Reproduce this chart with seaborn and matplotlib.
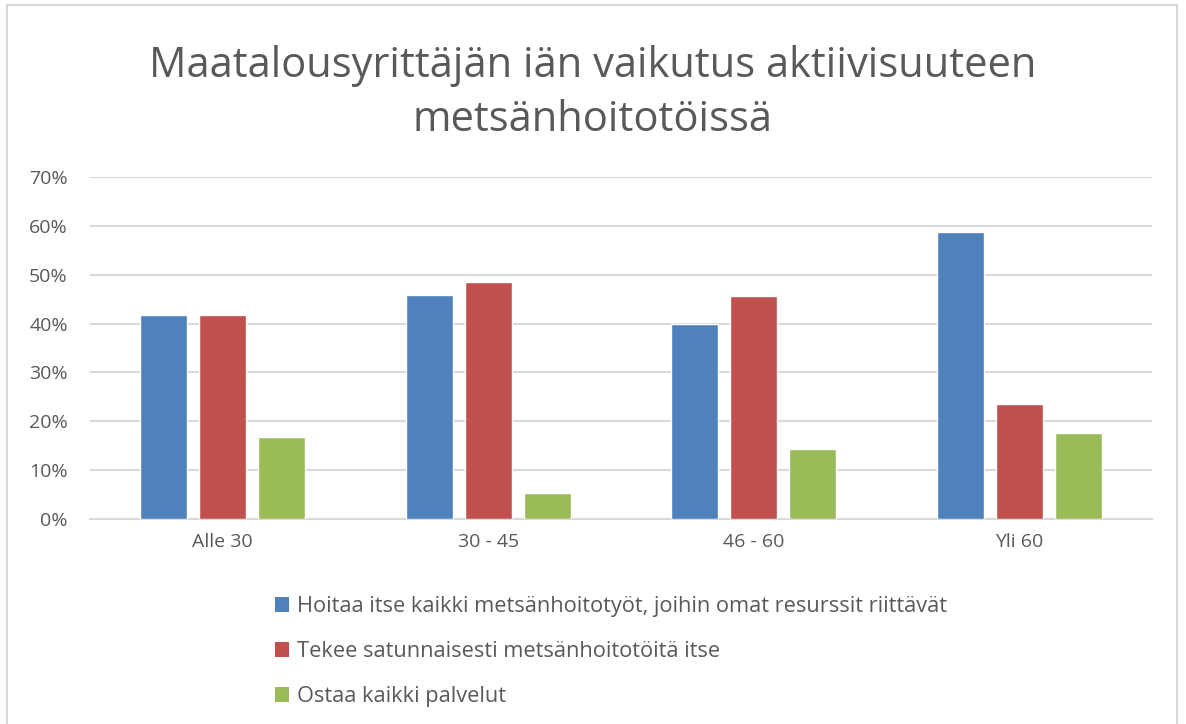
import matplotlib
matplotlib.use("Agg")
import matplotlib.pyplot as plt
from matplotlib.patches import Patch, Rectangle
from matplotlib.ticker import PercentFormatter
import pandas as pd
import seaborn as sns

# Data
age_groups = ["Alle 30", "30 - 45", "46 - 60", "Yli 60"]
series_names = [
    "Hoitaa itse kaikki metsänhoitotyöt, joihin omat resurssit riittävät",
    "Tekee satunnaisesti metsänhoitotöitä itse",
    "Ostaa kaikki palvelut",
]
hoitaa_itse = [0.417, 0.459, 0.400, 0.588]
satunnaisesti = [0.417, 0.486, 0.457, 0.235]
ostaa = [0.167, 0.054, 0.143, 0.176]
colors = ["#4F81BD", "#C0504D", "#9BBB59"]

rows = []
for name, vals in zip(series_names, [hoitaa_itse, satunnaisesti, ostaa]):
    for grp, v in zip(age_groups, vals):
        rows.append({"Ikä": grp, "Ryhmä": name, "Osuus": v})
df = pd.DataFrame(rows)

sns.set_style("white")
plt.rcParams["font.family"] = ["Open Sans", "DejaVu Sans"]
text_color = "#595959"
grid_color = "#D9D9D9"

fig = plt.figure(figsize=(11.86, 7.24), dpi=100)
ax = fig.add_axes([90 / 1186, 1 - 519 / 724, 1062 / 1186, 342 / 724])

sns.barplot(data=df, x="Ikä", y="Osuus", hue="Ryhmä", order=age_groups,
            hue_order=series_names, palette=colors, width=0.667, gap=0.2,
            saturation=1, ax=ax, legend=False, zorder=3)

ax.set_ylim(0, 0.70)
ax.set_xlim(-0.5, 3.5)
ax.set_yticks([i / 10 for i in range(8)])
ax.yaxis.set_major_formatter(PercentFormatter(1.0, decimals=0))
ax.grid(axis="y", color=grid_color, linewidth=1.5, zorder=0)
ax.set_axisbelow(True)
for s in ["left", "right", "top"]:
    ax.spines[s].set_visible(False)
ax.spines["bottom"].set_color(grid_color)
ax.spines["bottom"].set_linewidth(1.5)
ax.tick_params(axis="both", length=0, labelsize=14, colors=text_color)
ax.tick_params(axis="x", pad=10)
ax.tick_params(axis="y", pad=16)
ax.set_xlabel("")
ax.set_ylabel("")

fig.text(0.5, 1 - 93 / 724, "Maatalousyrittäjän iän vaikutus aktiivisuuteen\nmetsänhoitotöissä",
         ha="center", va="center", fontsize=30, color=text_color, linespacing=1.38)

handles = [Patch(facecolor=c, edgecolor="none") for c in colors]
fig.legend(handles, series_names, loc="upper left", bbox_to_anchor=(275 / 1186, 1 - 596 / 724),
           frameon=False, fontsize=15.7, labelcolor=text_color, handlelength=0.64,
           handleheight=0.64, handletextpad=0.37, labelspacing=1.1,
           borderpad=0, borderaxespad=0)

fig.patches.append(Rectangle((7 / 1186, -0.05), 1170 / 1186, 1.043, transform=fig.transFigure,
                             fill=False, edgecolor=grid_color, linewidth=1.5))

fig.savefig("out.png", dpi=100, facecolor="white")
